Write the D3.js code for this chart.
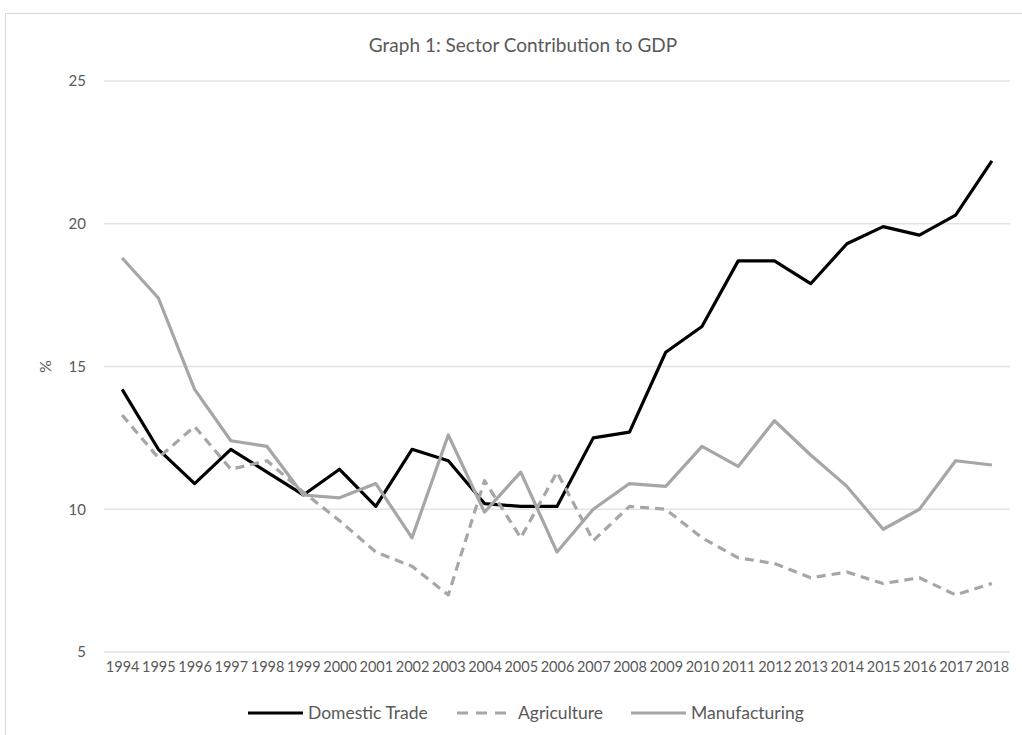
<!DOCTYPE html>
<html>
<head>
<meta charset="utf-8">
<script src="https://cdn.jsdelivr.net/npm/d3@7"></script>
<style>
  body { margin: 0; background: #fff; }
  text { font-family: Lato, "Open Sans", sans-serif; fill: #595959; }
</style>
</head>
<body>
<div id="chart"></div>
<script>
// data
var years = ["1994","1995","1996","1997","1998","1999","2000","2001","2002","2003","2004","2005","2006",
  "2007","2008","2009","2010","2011","2012","2013","2014","2015","2016","2017","2018"];
var domesticTrade = [14.2,12.1,10.9,12.1,11.3,10.5,11.4,10.1,12.1,11.7,10.2,10.1,10.1,
  12.5,12.7,15.5,16.4,18.7,18.7,17.9,19.3,19.9,19.6,20.3,22.2];
var agriculture = [13.3,11.8,12.9,11.4,11.7,10.6,9.6,8.5,8.0,7.0,11.0,9.0,11.3,
  8.9,10.1,10.0,9.0,8.3,8.1,7.6,7.8,7.4,7.6,7.0,7.4];
var manufacturing = [18.8,17.4,14.2,12.4,12.2,10.5,10.4,10.9,9.0,12.6,9.9,11.3,8.5,
  10.0,10.9,10.8,12.2,11.5,13.1,11.9,10.8,9.3,10.0,11.7,11.55];
var yTicks = [5, 10, 15, 20, 25];

var series = [
  {name: "Domestic Trade", values: domesticTrade, color: "#000000", dash: null},
  {name: "Agriculture", values: agriculture, color: "#a6a6a6", dash: "9,6"},
  {name: "Manufacturing", values: manufacturing, color: "#a6a6a6", dash: null}
];

var svgWidth = 1022;
var svgHeight = 735;

var svg = d3.select("#chart")
  .append("svg")
  .attr("width", svgWidth)
  .attr("height", svgHeight);

// chart frame (only left and top edges are visible)
svg.append("rect")
  .attr("x", 5.5).attr("y", 13.5)
  .attr("width", 1040).attr("height", 740)
  .attr("fill", "none")
  .attr("stroke", "#d9d9d9");

var plotLeft = 104, plotRight = 1010, plotTop = 81, plotBottom = 652;

var x = d3.scalePoint()
  .domain(years)
  .range([plotLeft, plotRight])
  .padding(0.5);

var y = d3.scaleLinear()
  .domain([5, 25])
  .range([plotBottom, plotTop]);

// gridlines
svg.append("g")
  .selectAll("line")
  .data(yTicks)
  .join("line")
  .attr("x1", plotLeft).attr("x2", plotRight)
  .attr("y1", d => y(d)).attr("y2", d => y(d))
  .attr("stroke", "#e3e3e3")
  .attr("stroke-width", 1.3);

// y axis labels
var yAxis = svg.append("g")
  .attr("transform", `translate(${plotLeft - 18}, 0)`)
  .call(d3.axisLeft(y).tickValues(yTicks).tickSize(0).tickPadding(0));
yAxis.select(".domain").remove();
yAxis.selectAll("text")
  .style("font-family", "Lato, sans-serif")
  .style("font-size", "15px")
  .attr("fill", "#595959");

// x axis labels
var xAxis = svg.append("g")
  .attr("transform", `translate(0, ${plotBottom + 10})`)
  .call(d3.axisBottom(x).tickSize(0).tickPadding(0));
xAxis.select(".domain").remove();
xAxis.selectAll("text")
  .style("font-family", "Lato, sans-serif")
  .style("font-size", "14.5px")
  .attr("fill", "#595959");

// lines
var line = d3.line()
  .x((d, i) => x(years[i]))
  .y(d => y(d));

svg.append("g")
  .selectAll("path")
  .data(series)
  .join("path")
  .attr("d", d => line(d.values))
  .attr("fill", "none")
  .attr("stroke", d => d.color)
  .attr("stroke-width", 3.2)
  .attr("stroke-dasharray", d => d.dash)
  .attr("stroke-linejoin", "round");

// titles
svg.append("text")
  .attr("x", 523)
  .attr("y", 52)
  .attr("text-anchor", "middle")
  .style("font-size", "19px")
  .text("Graph 1: Sector Contribution to GDP");

svg.append("text")
  .attr("transform", `translate(51, ${(plotTop + plotBottom) / 2}) rotate(-90)`)
  .attr("text-anchor", "middle")
  .style("font-size", "16px")
  .text("%");

// legend
var legendX = [248, 457, 631];
var legend = svg.append("g")
  .selectAll("g")
  .data(series)
  .join("g")
  .attr("transform", (d, i) => `translate(${legendX[i]}, 713)`);

legend.append("line")
  .attr("x1", 0).attr("x2", d => d.dash ? 50 : 55)
  .attr("stroke", d => d.color)
  .attr("stroke-width", 3.2)
  .attr("stroke-dasharray", d => d.dash ? "11,8" : null);

legend.append("text")
  .attr("x", (d, i) => i === 1 ? 61 : 60)
  .attr("y", 6)
  .style("font-size", "17.5px")
  .text(d => d.name);
</script>
</body>
</html>
